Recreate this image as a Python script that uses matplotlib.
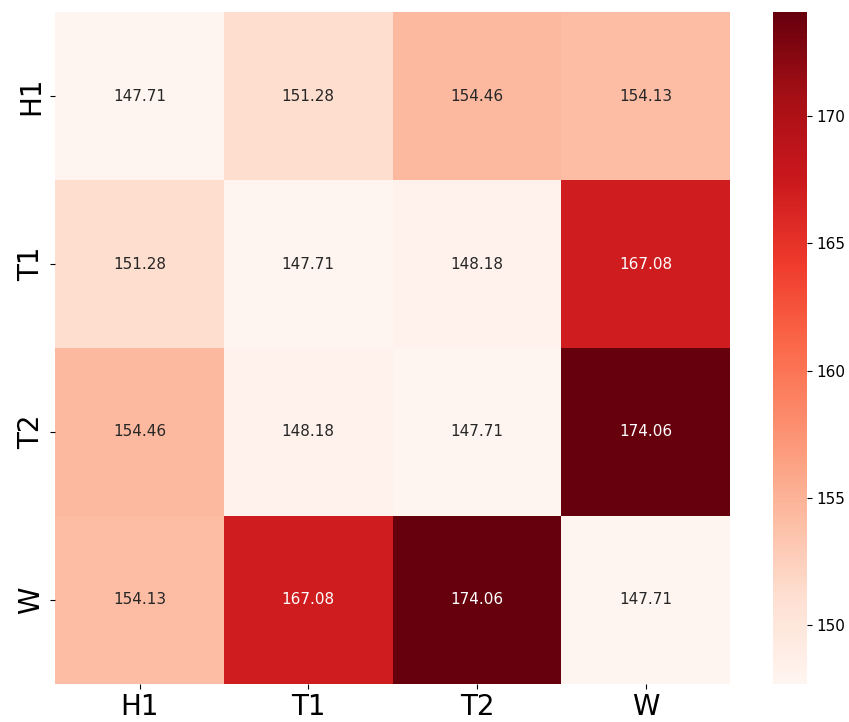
import matplotlib
matplotlib.use("Agg")
import matplotlib.pyplot as plt
import seaborn as sns
import numpy as np

labels = ["H1", "T1", "T2", "W"]
row_H1 = [147.71, 151.28, 154.46, 154.13]
row_T1 = [151.28, 147.71, 148.18, 167.08]
row_T2 = [154.46, 148.18, 147.71, 174.06]
row_W = [154.13, 167.08, 174.06, 147.71]
cbar_ticks = [150, 155, 160, 165, 170]

data = np.array([row_H1, row_T1, row_T2, row_W])

fig = plt.figure(figsize=(8.49, 7.22), dpi=100)
ax = fig.add_axes([0.065, 0.053, 0.795, 0.930])
cax = fig.add_axes([0.910, 0.053, 0.040, 0.930])

sns.heatmap(data, ax=ax, cbar_ax=cax, cmap="Reds", annot=True, fmt=".2f",
            xticklabels=labels, yticklabels=labels,
            annot_kws={"fontsize": 11})
ax.tick_params(axis="both", labelsize=20)
ax.set_yticklabels(labels, rotation=90, va="center")
ax.set_xticklabels(labels, rotation=0)
cax.set_yticks(cbar_ticks)
cax.tick_params(labelsize=11)

fig.savefig("out.png", dpi=100)
